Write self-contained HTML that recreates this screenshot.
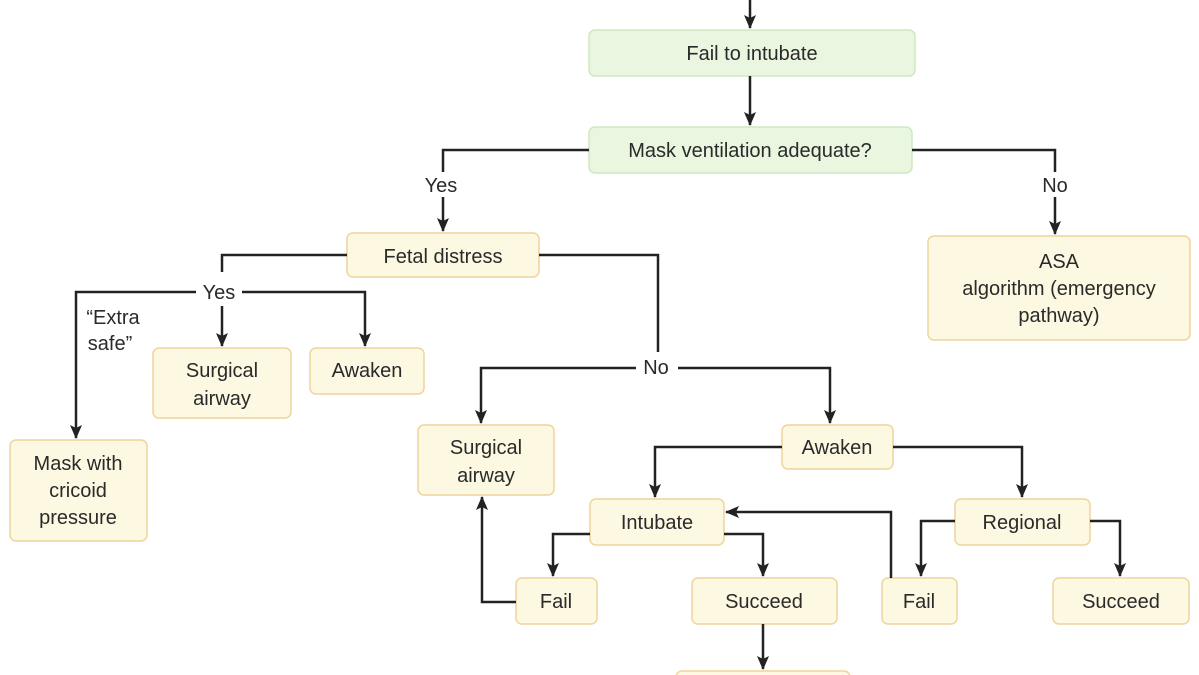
<!DOCTYPE html>
<html><head><meta charset="utf-8"><style>
html,body{margin:0;padding:0;background:#fff;}
svg{display:block;}
text{font-family:"Liberation Sans",sans-serif;font-size:20px;fill:#2a2a2a;text-anchor:middle;}
.y{fill:#fdf8e2;stroke:#efd49c;stroke-width:1.5;}
.g{fill:#e9f6e0;stroke:#cfe8bf;stroke-width:1.5;}
.l{fill:none;stroke:#222;stroke-width:2.5;}
</style></head><body>
<svg width="1199" height="675" viewBox="0 0 1199 675">
<defs><marker id="a" markerWidth="10" markerHeight="10" refX="8" refY="5" orient="auto" markerUnits="userSpaceOnUse"><path d="M0,0 L10,5 L0,10 L3,5z" fill="#222"/></marker>
<marker id="b" markerWidth="14" markerHeight="14" refX="13" refY="7" orient="auto" markerUnits="userSpaceOnUse"><path d="M0,1 L14,7 L0,13 L3,7z" fill="#222"/></marker></defs>
<!-- boxes -->
<rect class="g" x="589" y="30" width="326" height="46" rx="6"/>
<rect class="g" x="589" y="127" width="323" height="46" rx="6"/>
<rect class="y" x="347" y="233" width="192" height="44" rx="6"/>
<rect class="y" x="928" y="236" width="262" height="104" rx="6"/>
<rect class="y" x="153" y="348" width="138" height="70" rx="6"/>
<rect class="y" x="310" y="348" width="114" height="46" rx="6"/>
<rect class="y" x="10" y="440" width="137" height="101" rx="6"/>
<rect class="y" x="418" y="425" width="136" height="70" rx="6"/>
<rect class="y" x="782" y="425" width="111" height="44" rx="6"/>
<rect class="y" x="590" y="499" width="134" height="46" rx="6"/>
<rect class="y" x="955" y="499" width="135" height="46" rx="6"/>
<rect class="y" x="516" y="578" width="81" height="46" rx="6"/>
<rect class="y" x="692" y="578" width="145" height="46" rx="6"/>
<rect class="y" x="882" y="578" width="75" height="46" rx="6"/>
<rect class="y" x="1053" y="578" width="136" height="46" rx="6"/>
<rect class="y" x="676" y="671" width="174" height="20" rx="6"/>
<!-- text -->
<text x="752" y="60">Fail to intubate</text>
<text x="750" y="157">Mask ventilation adequate?</text>
<text x="443" y="263">Fetal distress</text>
<text x="1059" y="268">ASA</text>
<text x="1059" y="295">algorithm (emergency</text>
<text x="1059" y="322">pathway)</text>
<text x="222" y="377">Surgical</text>
<text x="222" y="405">airway</text>
<text x="367" y="377">Awaken</text>
<text x="78" y="470">Mask with</text>
<text x="78" y="497">cricoid</text>
<text x="78" y="524">pressure</text>
<text x="486" y="454">Surgical</text>
<text x="486" y="482">airway</text>
<text x="837" y="454">Awaken</text>
<text x="657" y="529">Intubate</text>
<text x="1022" y="529">Regional</text>
<text x="556" y="608">Fail</text>
<text x="764" y="608">Succeed</text>
<text x="919" y="608">Fail</text>
<text x="1121" y="608">Succeed</text>
<text x="441" y="192">Yes</text>
<text x="1055" y="192">No</text>
<text x="219" y="299">Yes</text>
<text x="113" y="324">“Extra</text>
<text x="110" y="350">safe”</text>
<text x="656" y="374">No</text>
<!-- lines -->
<path class="l" d="M750,0 V28" marker-end="url(#b)"/>
<path class="l" d="M750,76 V125" marker-end="url(#b)"/>
<path class="l" d="M589,150 H443 V172 M443,197 V231" marker-end="url(#b)"/>
<path class="l" d="M912,150 H1055 V172 M1055,197 V234" marker-end="url(#b)"/>
<path class="l" d="M347,255 H222 V272"/>
<path class="l" d="M196,292 H76 V438" marker-end="url(#b)"/>
<path class="l" d="M242,292 H365 V346" marker-end="url(#b)"/>
<path class="l" d="M222,306 V346" marker-end="url(#b)"/>
<path class="l" d="M539,255 H658 V352"/>
<path class="l" d="M636,368 H481 V423" marker-end="url(#b)"/>
<path class="l" d="M678,368 H830 V423" marker-end="url(#b)"/>
<path class="l" d="M782,447 H655 V497" marker-end="url(#b)"/>
<path class="l" d="M893,447 H1022 V497" marker-end="url(#b)"/>
<path class="l" d="M590,534 H553 V576" marker-end="url(#b)"/>
<path class="l" d="M724,534 H763 V576" marker-end="url(#b)"/>
<path class="l" d="M516,602 H482 V497" marker-end="url(#b)"/>
<path class="l" d="M763,624 V669" marker-end="url(#b)"/>
<path class="l" d="M891,578 V512 H726" marker-end="url(#b)"/>
<path class="l" d="M955,521 H921 V576" marker-end="url(#b)"/>
<path class="l" d="M1090,521 H1120 V576" marker-end="url(#b)"/>
</svg>
</body></html>
